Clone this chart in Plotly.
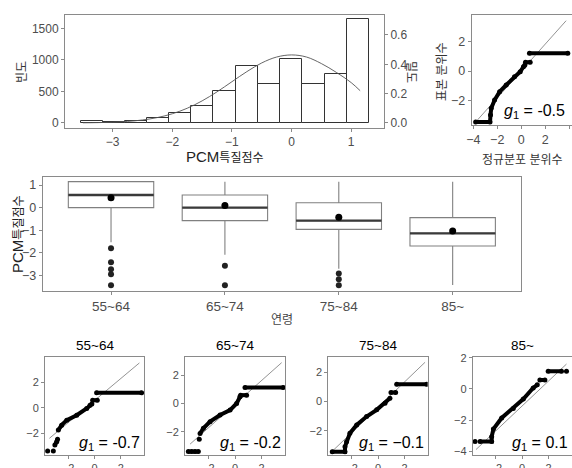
import plotly.graph_objects as go

FONT = "Liberation Sans, Arial, Noto Sans CJK KR, sans-serif"
TICK_COLOR = "#4d4d4d"
FRAME_COLOR = "#8a8a8a"

# ---- histogram of PCM trait scores ----
bin_edges = [-3.54, -3.17, -2.79, -2.42, -2.05, -1.68, -1.31, -0.94, -0.57, -0.19, 0.18, 0.56, 0.93, 1.30]
bin_counts = [30, 20, 30, 75, 160, 277, 510, 910, 622, 1016, 622, 782, 1644]

# fitted normal density curve (right axis)
dens_x = [-3.5, -3.25, -3.0, -2.75, -2.5, -2.25, -2.0, -1.75, -1.5, -1.25, -1.0,
          -0.75, -0.5, -0.25, 0.0, 0.25, 0.5, 0.75, 1.0, 1.15]
dens_y = [0.001, 0.0024, 0.0052, 0.0106, 0.0204, 0.0369, 0.0628, 0.1004, 0.1507, 0.2124, 0.2814,
          0.3502, 0.4095, 0.4497, 0.464, 0.4497, 0.405, 0.345, 0.275, 0.22]

# ---- overall normal Q-Q plot ----
qq_all_x = [-3.8, -2.6, -2.56, -2.5, -2.22, -1.8, -1.25, -0.56, -0.08, 0.19, 0.3, None, 0.36, 0.75, None, 0.69, 3.89]
qq_all_y = [-3.45, -3.45, -2.98, -2.53, -1.97, -1.4, -0.95, -0.38, -0.05, 0.29, 0.4, None, 0.59, 0.59, None, 1.2, 1.2]
qq_all_line = (0.0, 0.91, -3.7, 3.75)   # intercept, slope, x from, x to
g1_all = "-0.5"

# ---- box plot by age group ----
age_groups = ["55~64", "65~74", "75~84", "85~"]
box_q1 = [0.0, -0.575, -0.96, -1.70]
box_median = [0.56, 0.0, -0.575, -1.14]
box_q3 = [1.15, 0.56, 0.22, -0.44]
box_lower = [-1.53, -2.09, -2.71, -3.42]
box_upper = [1.15, 1.15, 1.15, 1.15]
group_means = [0.44, 0.09, -0.43, -1.03]
outliers_5564 = [-1.8, -2.42, -2.73, -2.95, -3.44]
outliers_6574 = [-2.57, -3.44]
outliers_7584 = [-2.92, -3.17, -3.44]
outliers_85 = []

# ---- Q-Q plots by age group ----
qq_5564_x = [-3.55, None, -3.12, None, -3.0, -2.86, -2.8, None, -2.74, -2.49, -2.1, -1.35, -0.59, -0.34, -0.2,
             None, -0.14, 0.21, None, 0.16, 3.57]
qq_5564_y = [-3.4, None, -3.4, None, -2.93, -2.67, -2.48, None, -1.75, -1.36, -0.97, -0.58, -0.05, 0.21, 0.3,
             None, 0.6, 0.6, None, 1.18, 1.18]
qq_6574_x = [-3.5, -3.25, -3.0, -2.75, None, -2.68, None, -2.62, -2.37, -1.87, -1.12, -0.37, 0.12, 0.37,
             None, 0.42, 0.87, None, 0.75, 3.62]
qq_6574_y = [-3.41, -3.41, -3.41, -3.41, None, -2.54, None, -2.12, -1.76, -1.29, -0.82, -0.47, 0.0, 0.47,
             None, 0.59, 0.59, None, 1.13, 1.13]
qq_7584_x = [-3.45, -2.49, -2.49, -2.37, -2.12, -1.61, -0.86, -0.1, 0.53, 0.9, None, 0.98, 1.33, None, 1.41, 3.68]
qq_7584_y = [-3.43, -3.43, -3.09, -2.75, -2.17, -1.6, -1.03, -0.57, -0.11, 0.23, None, 0.62, 0.62, None, 1.19, 1.19]
qq_85_x = [-3.57, None, -3.19, -2.31, -2.31, -2.18, -1.55, -0.67, 0.09, 0.84, 1.15, None, 1.35, 1.73,
           None, 1.98, 2.99, None, 3.37]
qq_85_y = [-3.39, None, -3.39, -3.39, -3.08, -2.58, -1.87, -1.26, -0.65, 0.06, 0.26, None, 0.57, 0.57,
           None, 1.14, 1.14, None, 1.14]
group_qq_x = [qq_5564_x, qq_6574_x, qq_7584_x, qq_85_x]
group_qq_y = [qq_5564_y, qq_6574_y, qq_7584_y, qq_85_y]
group_qq_lines = [(0.575, 0.87, -3.42, 3.4), (-0.05, 0.84, -3.37, 3.5),
                  (-0.4, 0.87, -3.37, 3.55), (-1.1, 0.8, -3.5, 3.37)]
group_g1 = ["-0.7", "-0.2", "\u22120.1", "0.1"]
group_y_ranges = [[-3.71, 4.0], [-3.65, 3.29], [-3.66, 3.05], [-4.25, 2.05]]
group_y_ticks = [[-2, 0, 2], [-2, 0, 2], [-2, 0, 2], [-4, -2, 0, 2]]


def px_x(p):
    return p / 572.0


def px_y(p):
    return 1 - p / 468.0


def axis_style(size=12, **kw):
    d = dict(showline=True, mirror=True, linecolor=FRAME_COLOR, linewidth=1,
             ticks="outside", ticklen=3, tickcolor=FRAME_COLOR, tickwidth=1,
             showgrid=False, zeroline=False, automargin=False,
             tickfont=dict(family=FONT, size=size, color=TICK_COLOR))
    d.update(kw)
    return d


fig = go.Figure()

# histogram bars
centers = [(a + b) / 2 for a, b in zip(bin_edges[:-1], bin_edges[1:])]
widths = [b - a for a, b in zip(bin_edges[:-1], bin_edges[1:])]
fig.add_trace(go.Bar(x=centers, y=bin_counts, width=widths, xaxis="x", yaxis="y",
                     marker=dict(color="white", line=dict(color="#333333", width=1))))
fig.add_trace(go.Scatter(x=dens_x, y=dens_y, xaxis="x", yaxis="y2", mode="lines",
                         line=dict(color="#555555", width=0.9, shape="spline")))


def qq_traces(xs, ys, line, xa, ya):
    a, b, x0, x1 = line
    fig.add_trace(go.Scatter(x=[x0, x1], y=[a + b * x0, a + b * x1], xaxis=xa, yaxis=ya,
                             mode="lines", line=dict(color="#777777", width=0.8)))
    fig.add_trace(go.Scatter(x=xs, y=ys, xaxis=xa, yaxis=ya, mode="lines+markers",
                             line=dict(color="black", width=4),
                             marker=dict(color="black", size=5), connectgaps=False))


qq_traces(qq_all_x, qq_all_y, qq_all_line, "x3", "y3")

# box plot
pos = [1, 2, 3, 4]
fig.add_trace(go.Box(x=pos, q1=box_q1, median=box_median, q3=box_q3,
                     lowerfence=box_lower, upperfence=box_upper, width=0.75,
                     whiskerwidth=0, boxpoints=False, xaxis="x4", yaxis="y4",
                     fillcolor="white", line=dict(color="#808080", width=1.1)))
med_x, med_y = [], []
for p, m in zip(pos, box_median):
    med_x += [p - 0.375, p + 0.375, None]
    med_y += [m, m, None]
fig.add_trace(go.Scatter(x=med_x, y=med_y, xaxis="x4", yaxis="y4", mode="lines",
                         line=dict(color="#3a3a3a", width=2.4)))
for p, outs in zip(pos, [outliers_5564, outliers_6574, outliers_7584, outliers_85]):
    if outs:
        fig.add_trace(go.Scatter(x=[p] * len(outs), y=outs, xaxis="x4", yaxis="y4", mode="markers",
                                 marker=dict(color="#222222", size=6)))
fig.add_trace(go.Scatter(x=pos, y=group_means, xaxis="x4", yaxis="y4", mode="markers",
                         marker=dict(color="black", size=7)))

# group Q-Q plots
for i in range(4):
    qq_traces(group_qq_x[i], group_qq_y[i], group_qq_lines[i], f"x{5 + i}", f"y{5 + i}")

layout = dict(
    width=572, height=468, margin=dict(l=0, r=0, t=0, b=0, autoexpand=False),
    paper_bgcolor="white", plot_bgcolor="white", showlegend=False,
    font=dict(family=FONT, color="#222222"),
    bargap=0,
)

# histogram axes
layout["xaxis"] = axis_style(12, domain=[px_x(65), px_x(384)], range=[-3.8, 1.55],
                             tickvals=[-3, -2, -1, 0, 1], anchor="y")
layout["yaxis"] = axis_style(12, domain=[px_y(128), px_y(15)], range=[-80, 1714],
                             tickvals=[0, 500, 1000, 1500], anchor="x")
layout["yaxis2"] = axis_style(12, overlaying="y", side="right", anchor="x",
                              range=[-80 / 2328, 1714 / 2328], tickvals=[0, 0.2, 0.4, 0.6],
                              tickformat=".1f", mirror=False)
# overall Q-Q axes
layout["xaxis3"] = axis_style(12.5, domain=[px_x(471.7), px_x(571.5)], range=[-4.13, 4.2],
                              tickvals=[-4, -2, 0, 2, 4], anchor="y3")
layout["yaxis3"] = axis_style(12.5, domain=[px_y(125), px_y(15)], range=[-3.66, 3.8],
                              tickvals=[-2, 0, 2], anchor="x3")
# box plot axes
layout["xaxis4"] = axis_style(13.5, domain=[px_x(42.7), px_x(521)], range=[0.4, 4.6],
                              tickvals=pos, ticktext=age_groups, anchor="y4")
layout["yaxis4"] = axis_style(12.5, domain=[px_y(291), px_y(176.7)], range=[-3.69, 1.37],
                              tickvals=[-3, -2, -1, 0, 1], anchor="x4")
# group Q-Q axes
panel_x = [(45, 144), (185, 285), (328.3, 427.7), (472.7, 571.5)]
for i in range(4):
    layout[f"xaxis{5 + i}"] = axis_style(11, domain=[px_x(panel_x[i][0]), px_x(panel_x[i][1])],
                                         range=[-3.75, 3.75], tickvals=[-2, 0, 2], anchor=f"y{5 + i}")
    layout[f"yaxis{5 + i}"] = axis_style(11, domain=[px_y(455), px_y(357)], range=group_y_ranges[i],
                                         tickvals=group_y_ticks[i], anchor=f"x{5 + i}")

KR = "font-size:12px"
title_col = "#333333"
ann = [
    dict(text="빈도", x=px_x(22), y=px_y(72), textangle=-90, font=dict(size=12, color=title_col)),
    dict(text="밀도", x=px_x(411), y=px_y(72), textangle=90, font=dict(size=12, color=title_col)),
    dict(text=f"PCM<span style='{KR}'>특질점수</span>", x=px_x(225), y=px_y(157),
         font=dict(size=15, color="#222222")),
    dict(text="표본 분위수", x=px_x(442), y=px_y(72), textangle=-90, font=dict(size=12, color=title_col)),
    dict(text="정규분포 분위수", x=px_x(522), y=px_y(160), font=dict(size=12, color=title_col)),
    dict(text=f"PCM<span style='{KR}'>특질점수</span>", x=px_x(17), y=px_y(234), textangle=-90,
         font=dict(size=15, color="#222222")),
    dict(text="연령", x=px_x(282), y=px_y(320), font=dict(size=12, color="#444444")),
]
for i, g in enumerate(age_groups):
    ann.append(dict(text=g, x=px_x((panel_x[i][0] + panel_x[i][1]) / 2), y=px_y(345),
                    font=dict(size=13.5, color="black")))
# skewness labels
ann.append(dict(text=f"<i>g</i><sub>1</sub> = {g1_all}", xref="x3 domain", yref="y3 domain",
                x=0.95, y=0.02, xanchor="right", yanchor="bottom",
                font=dict(size=16, color="black")))
for i in range(4):
    ann.append(dict(text=f"<i>g</i><sub>1</sub> = {group_g1[i]}", xref=f"x{5 + i} domain",
                    yref=f"y{5 + i} domain", x=0.98, y=0.0, xanchor="right", yanchor="bottom",
                    font=dict(size=16, color="black")))
for a in ann:
    a.setdefault("xref", "paper")
    a.setdefault("yref", "paper")
    a.setdefault("xanchor", "center")
    a.setdefault("yanchor", "middle")
    a["showarrow"] = False
    a["font"]["family"] = FONT
layout["annotations"] = ann

fig.update_layout(**layout)
fig.write_html("out.html")
